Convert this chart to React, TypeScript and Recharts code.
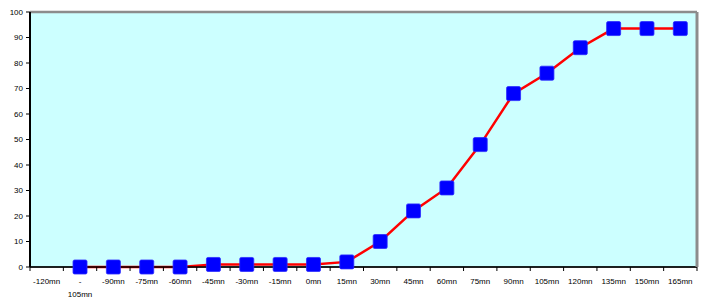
import React from 'react';
import { ComposedChart, Line, XAxis, YAxis, CartesianGrid, ReferenceLine } from 'recharts';

const categories = ['-120mn', '-105mn', '-90mn', '-75mn', '-60mn', '-45mn', '-30mn', '-15mn', '0mn', '15mn', '30mn', '45mn', '60mn', '75mn', '90mn', '105mn', '120mn', '135mn', '150mn', '165mn'];
const values: (number | null)[] = [null, 0, 0, 0, 0, 1, 1, 1, 1, 2, 10, 22, 31, 48, 68, 76, 86, 93.5, 93.5, 93.5];
const yTicks = [0, 10, 20, 30, 40, 50, 60, 70, 80, 90, 100];

const data = categories.map((c, i) => ({ cat: c, v: values[i] }));

const W = 702;
const H = 300;
const LEFT_W = 30;
const RIGHT_W = 5;
const BAND = (W - LEFT_W - RIGHT_W) / categories.length;
const FONT = 'Liberation Sans, Arial, sans-serif';

const XTick = (props: any) => {
  const { x, y, payload, index } = props;
  const label: string = payload.value;
  const lines = label === '-105mn' ? ['-', '105mn'] : [label];
  return (
    <g>
      <line x1={x - BAND / 2} x2={x - BAND / 2} y1={y} y2={y + 4} stroke="#000" strokeWidth={1} />
      {index === categories.length - 1 && (
        <line x1={x + BAND / 2} x2={x + BAND / 2} y1={y} y2={y + 4} stroke="#000" strokeWidth={1} />
      )}
      <text x={x} y={y + 17} textAnchor="middle" fontSize={8} fill="#000" fontFamily={FONT}>
        {lines.map((l, i) => (
          <tspan key={i} x={x} dy={i === 0 ? 0 : 13}>{l}</tspan>
        ))}
      </text>
    </g>
  );
};

const SquareDot = (props: any) => {
  const { cx, cy, value } = props;
  if (cx == null || cy == null || value == null) return null;
  const s = 14;
  return <rect x={cx - s / 2} y={cy - s / 2} width={s} height={s} rx={1.5} fill="#0000FF" stroke="#2a2aff" strokeWidth={0.8} />;
};

export default function App() {
  return (
    <div style={{ position: 'absolute', left: 0, top: 0 }}>
      <ComposedChart width={W} height={H} data={data} margin={{ top: 12, right: 0, bottom: 0, left: 0 }} style={{ fontFamily: FONT }}>
        <CartesianGrid vertical={false} stroke="#000" strokeWidth={1} fill="#CCFFFF" fillOpacity={1} />
        <XAxis
          dataKey="cat"
          type="category"
          scale="band"
          interval={0}
          height={33}
          tickLine={false}
          tickSize={0}
          tickMargin={0}
          axisLine={{ stroke: '#000', strokeWidth: 1.5 }}
          tick={<XTick />}
        />
        <YAxis
          yAxisId="left"
          domain={[0, 100]}
          ticks={yTicks}
          width={LEFT_W}
          tickSize={4}
          tickMargin={3}
          axisLine={{ stroke: '#000', strokeWidth: 2 }}
          tickLine={{ stroke: '#000' }}
          tick={{ fontSize: 8, fill: '#000', fontFamily: FONT }}
        />
        <YAxis
          yAxisId="right"
          orientation="right"
          domain={[0, 100]}
          width={RIGHT_W}
          tick={false}
          tickLine={false}
          axisLine={{ stroke: '#8c8c8c', strokeWidth: 3 }}
        />
        <ReferenceLine yAxisId="left" y={100} stroke="#8c8c8c" strokeWidth={2.5} />
        <Line
          yAxisId="left"
          type="linear"
          dataKey="v"
          stroke="#FF0000"
          strokeWidth={2.5}
          dot={<SquareDot />}
          activeDot={false}
          isAnimationActive={false}
          connectNulls={false}
        />
      </ComposedChart>
    </div>
  );
}
